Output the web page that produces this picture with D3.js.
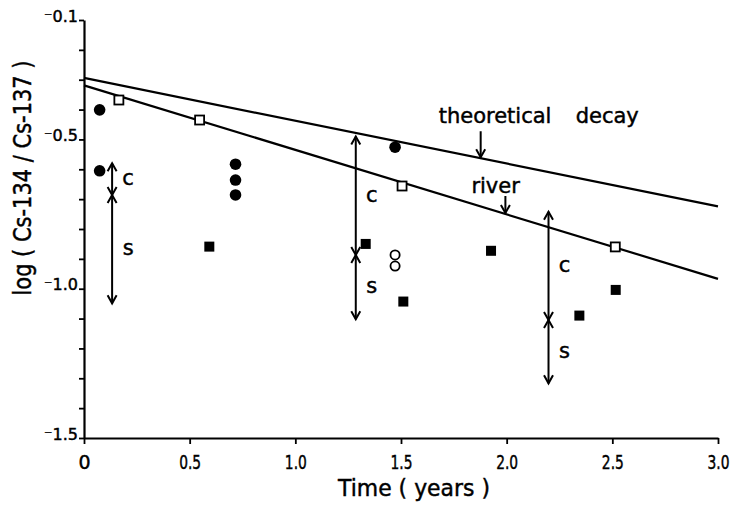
<!DOCTYPE html>
<html>
<head>
<meta charset="utf-8">
<script src="https://cdn.jsdelivr.net/npm/d3@7"></script>
<style>
  html, body { margin: 0; padding: 0; background: #fff; }
  svg { display: block; font-family: "DejaVu Sans", sans-serif; }
  svg text { fill: #000; stroke: #000; stroke-width: 0.45px; }
</style>
</head>
<body>
<script>
// Cs-134 / Cs-137 activity ratio (log10) against time since deposition
const theoryYears = [0, 3.0];
const theoryLog = [-0.294, -0.724];
const riverYears = [0, 3.0];
const riverLog = [-0.319, -0.967];

const riverSampleYears = [0.165, 0.547, 1.505, 2.514];
const riverSampleLog = [-0.368, -0.435, -0.656, -0.860];

const solidCircleYears = [0.074, 0.074, 0.717, 0.717, 0.717, 1.472];
const solidCircleLog = [-0.401, -0.605, -0.583, -0.636, -0.686, -0.526];

const openCircleYears = [1.472, 1.472];
const openCircleLog = [-0.887, -0.924];

const solidSquareYears = [0.593, 1.333, 1.511, 1.926, 2.344, 2.516];
const solidSquareLog = [-0.859, -0.850, -1.043, -0.873, -1.090, -1.004];

// c / s ranges: top of c, c–s split, bottom of s
const rangeYears = [0.133, 1.286, 2.198];
const rangeTop = [-0.580, -0.490, -0.742];
const rangeSplit = [-0.686, -0.887, -1.105];
const rangeBottom = [-1.049, -1.102, -1.317];

const xTickValues = [0, 0.5, 1.0, 1.5, 2.0, 2.5, 3.0];
const xTickLabels = ["0", "0.5", "1.0", "1.5", "2.0", "2.5", "3.0"];
const yTickValues = d3.range(1, 16).map(i => -i / 10);
const yTickLabels = {"-0.1": "⁻0.1", "-0.5": "⁻0.5", "-1": "⁻1.0", "-1.5": "⁻1.5"};

const theoryPointerYear = 1.877;
const riverPointerYear = 1.994;

const W = 734, H = 506;
const svg = d3.select("body").append("svg").attr("width", W).attr("height", H);

const x = d3.scaleLinear().domain([0, 3]).range([84, 718]);
const y = d3.scaleLinear().domain([-0.1, -1.5]).range([20, 438]);

// axes
const yAxis = d3.axisLeft(y)
  .tickValues(yTickValues)
  .tickSize(5)
  .tickSizeOuter(0)
  .tickFormat(d => yTickLabels[String(+d.toFixed(1))] || "");
const gy = svg.append("g").attr("transform", `translate(${x(0)},0)`).call(yAxis);
gy.attr("font-size", null).attr("font-family", null);
gy.select(".domain").attr("stroke-width", 2.2);
gy.selectAll(".tick line").attr("stroke-width", 1.8);
gy.selectAll(".tick text")
  .attr("x", -6).attr("y", 1).attr("dy", 0)
  .style("font-size", "16px");

const xAxis = d3.axisBottom(x)
  .tickValues(xTickValues)
  .tickSize(6)
  .tickSizeOuter(0)
  .tickFormat((d, i) => xTickLabels[i]);
const gx = svg.append("g").attr("transform", `translate(0,${y(-1.5)})`).call(xAxis);
gx.attr("font-size", null).attr("font-family", null);
gx.select(".domain").attr("stroke-width", 2.2);
gx.selectAll(".tick line").attr("stroke-width", 1.8);
gx.selectAll(".tick text")
  .attr("y", 31).attr("dy", 0)
  .style("font-size", "19px")
  .each(function(d, i) {
    if (xTickLabels[i].length > 1) d3.select(this).attr("textLength", 22).attr("lengthAdjust", "spacingAndGlyphs");
  });

// axis titles
svg.append("text")
  .attr("x", 414).attr("y", 496)
  .attr("text-anchor", "middle")
  .style("font-size", "23px")
  .attr("textLength", 152).attr("lengthAdjust", "spacingAndGlyphs")
  .text("Time ( years )");

svg.append("text")
  .attr("transform", "translate(31,178) rotate(-90)")
  .attr("text-anchor", "middle")
  .style("font-size", "24px")
  .attr("textLength", 235).attr("lengthAdjust", "spacingAndGlyphs")
  .text("log ( Cs-134 / Cs-137 )");

// fitted lines
const line = d3.line().x(d => x(d[0])).y(d => y(d[1]));
const theoryPts = theoryYears.map((t, i) => [t, theoryLog[i]]);
const riverPts = riverYears.map((t, i) => [t, riverLog[i]]);
svg.append("path").attr("d", line(theoryPts)).attr("fill", "none").attr("stroke", "#000").attr("stroke-width", 2.2);
svg.append("path").attr("d", line(riverPts)).attr("fill", "none").attr("stroke", "#000").attr("stroke-width", 2.2);

// arrowhead: tip at (px, py), dir = -1 points up, +1 points down
function head(g, px, py, dir) {
  g.append("path")
    .attr("d", `M${px - 4.5},${py - dir * 8}L${px},${py}L${px + 4.5},${py - dir * 8}`)
    .attr("fill", "none").attr("stroke", "#000").attr("stroke-width", 2);
}
function pointer(px, y0, y1) {
  const g = svg.append("g");
  g.append("line").attr("x1", px).attr("x2", px).attr("y1", y0).attr("y2", y1)
    .attr("stroke", "#000").attr("stroke-width", 2);
  head(g, px, y1, 1);
}

// curve labels with pointers
const theoryAt = d3.scaleLinear().domain(theoryYears).range(theoryLog);
const riverAt = d3.scaleLinear().domain(riverYears).range(riverLog);
{
  const px = x(theoryPointerYear), tip = y(theoryAt(theoryPointerYear));
  pointer(px, tip - 27, tip - 1);
  svg.append("text").attr("x", px - 42).attr("y", tip - 35).style("font-size", "21px").text("theoretical");
  svg.append("text").attr("x", px + 95).attr("y", tip - 35).style("font-size", "21px").text("decay");
}
{
  const px = x(riverPointerYear), tip = y(riverAt(riverPointerYear));
  pointer(px, tip - 18, tip - 1);
  svg.append("text").attr("x", px - 34).attr("y", tip - 21).style("font-size", "21px").text("river");
}

// c / s ranges
rangeYears.forEach((t, i) => {
  const g = svg.append("g");
  const px = x(t), yt = y(rangeTop[i]), ym = y(rangeSplit[i]), yb = y(rangeBottom[i]);
  g.append("line").attr("x1", px).attr("x2", px).attr("y1", yt).attr("y2", yb)
    .attr("stroke", "#000").attr("stroke-width", 2);
  head(g, px, yt, -1);
  head(g, px, ym, 1);
  head(g, px, ym, -1);
  head(g, px, yb, 1);
  g.append("text").attr("x", px + 16).attr("y", (yt + ym) / 2 + 6)
    .attr("text-anchor", "middle").style("font-size", "21px").text("c");
  g.append("text").attr("x", px + 16).attr("y", (ym + yb) / 2 + 6)
    .attr("text-anchor", "middle").style("font-size", "21px").text("s");
});

// samples
const sq = 10;
svg.append("g").selectAll("rect")
  .data(solidSquareYears.map((t, i) => [t, solidSquareLog[i]]))
  .join("rect")
  .attr("x", d => x(d[0]) - sq / 2).attr("y", d => y(d[1]) - sq / 2)
  .attr("width", sq).attr("height", sq).attr("fill", "#000");

svg.append("g").selectAll("rect")
  .data(riverSampleYears.map((t, i) => [t, riverSampleLog[i]]))
  .join("rect")
  .attr("x", d => x(d[0]) - 4.5).attr("y", d => y(d[1]) - 4.5)
  .attr("width", 9).attr("height", 9)
  .attr("fill", "#fff").attr("stroke", "#000").attr("stroke-width", 1.8);

svg.append("g").selectAll("circle")
  .data(solidCircleYears.map((t, i) => [t, solidCircleLog[i]]))
  .join("circle")
  .attr("cx", d => x(d[0])).attr("cy", d => y(d[1])).attr("r", 5.8).attr("fill", "#000");

svg.append("g").selectAll("circle")
  .data(openCircleYears.map((t, i) => [t, openCircleLog[i]]))
  .join("circle")
  .attr("cx", d => x(d[0])).attr("cy", d => y(d[1])).attr("r", 4.6)
  .attr("fill", "#fff").attr("stroke", "#000").attr("stroke-width", 1.8);
</script>
</body>
</html>
